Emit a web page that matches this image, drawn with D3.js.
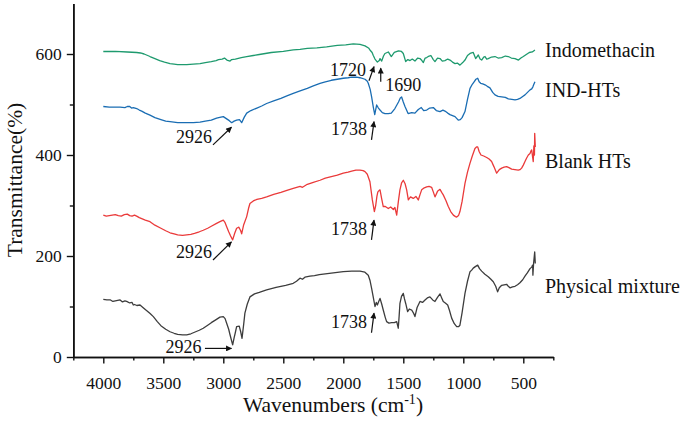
<!DOCTYPE html>
<html><head><meta charset="utf-8">
<script src="https://cdn.jsdelivr.net/npm/d3@7"></script>
<style>
body{margin:0;background:#fff}
svg{display:block}
text{font-family:"Liberation Serif","Times New Roman",serif !important;fill:#111}
</style>
</head><body>
<svg id="chart" width="683" height="427"></svg>
<script>
// ---- data ----
const xMajorTicks = [4000,3500,3000,2500,2000,1500,1000,500];
const xMinorTicks = [4250,3750,3250,2750,2250,1750,1250,750,250];
const yMajorTicks = [0,200,400,600];
const yMinorTicks = [100,300,500];

const seriesNames = ["Indomethacin","IND-HTs","Blank HTs","Physical mixture"];
const seriesColors = ["#1e9a6e","#1a6db3","#ea3a3a","#3d3d3d"];

const indomethacin = [[4000,605],[3900,605],[3800,604],[3722,603],[3690,602],[3660,600],[3630,597],[3611,595],[3570,591],[3530,587],[3490,584],[3444,581],[3410,580],[3380,579],[3340,579],[3305,579],[3250,580],[3194,581],[3150,583],[3100,585],[3060,587],[3040,589],[3010,590],[2990,592],[2970,588],[2944,586],[2930,589],[2900,590],[2850,593],[2805,595],[2750,597],[2700,599],[2650,601],[2600,603],[2500,605],[2417,608],[2360,609],[2300,611],[2220,612],[2139,614],[2050,617],[1980,618],[1917,620],[1861,619],[1819,616],[1790,612],[1778,608],[1760,603],[1750,597],[1736,590],[1716,584],[1700,587],[1694,591],[1680,586],[1665,596],[1653,601],[1625,604],[1600,595],[1575,603],[1540,606],[1515,605],[1500,601],[1480,585],[1462,589],[1444,587],[1425,590],[1403,586],[1380,592],[1361,591],[1345,587],[1333,583],[1318,592],[1305,593],[1285,596],[1270,597],[1250,589],[1236,585],[1215,592],[1194,591],[1175,586],[1153,587],[1130,590],[1111,588],[1090,584],[1069,581],[1050,582],[1028,578],[1005,583],[986,588],[965,597],[944,601],[917,603],[897,591],[875,598],[860,590],[847,588],[830,594],[819,595],[805,590],[792,591],[765,594],[736,595],[710,592],[680,593],[650,596],[625,595],[600,592],[569,591],[540,588],[520,592],[500,595],[475,599],[450,603],[425,604],[403,608]];

const indHTs = [[4000,496],[3950,495],[3900,495],[3860,495],[3820,494],[3800,496],[3780,496],[3765,493],[3750,494],[3722,492],[3700,489],[3680,487],[3650,483],[3611,479],[3570,474],[3520,470],[3480,467],[3444,466],[3380,464],[3300,464],[3250,464],[3194,465],[3150,467],[3100,469],[3056,473],[3020,475],[3000,476],[2975,472],[2950,468],[2930,464],[2910,467],[2889,469],[2865,470],[2847,464],[2825,475],[2805,483],[2770,488],[2720,493],[2680,497],[2639,502],[2580,507],[2520,512],[2470,517],[2417,522],[2360,527],[2300,532],[2250,537],[2194,542],[2150,545],[2100,548],[2050,550],[2000,552],[1960,553],[1930,554],[1890,554],[1861,553],[1819,550],[1800,546],[1792,542],[1776,530],[1764,515],[1750,495],[1738,480],[1730,490],[1722,499],[1710,494],[1694,489],[1675,484],[1653,482],[1625,482],[1600,483],[1570,492],[1540,505],[1525,513],[1514,515],[1500,505],[1486,496],[1460,482],[1430,484],[1403,483],[1375,490],[1350,494],[1330,488],[1305,489],[1280,493],[1250,494],[1225,488],[1194,486],[1170,489],[1153,487],[1130,483],[1111,480],[1090,478],[1069,476],[1042,469],[1025,470],[1010,474],[986,486],[965,510],[944,532],[925,540],[910,545],[895,550],[880,552],[868,545],[855,542],[838,541],[819,539],[800,536],[778,533],[755,524],[736,519],[710,516],[680,515],[650,514],[625,511],[595,510],[569,509],[548,510],[528,512],[505,516],[486,519],[465,524],[444,529],[430,531],[420,535],[412,540],[403,545]];

const blankHTs = [[4000,281],[3975,279],[3950,280],[3925,281],[3900,282],[3875,280],[3850,279],[3825,282],[3800,283],[3780,280],[3760,279],[3740,281],[3722,279],[3700,276],[3680,274],[3650,271],[3611,268],[3570,261],[3520,255],[3480,250],[3444,246],[3410,244],[3380,242],[3340,241],[3305,242],[3270,243],[3240,245],[3200,248],[3167,251],[3130,255],[3100,259],[3060,264],[3028,268],[3000,271],[2985,266],[2972,258],[2955,248],[2940,240],[2922,232],[2905,245],[2889,255],[2870,257],[2855,250],[2847,244],[2830,262],[2805,278],[2790,294],[2778,304],[2750,309],[2720,312],[2680,314],[2639,317],[2580,322],[2520,326],[2470,330],[2417,334],[2360,338],[2340,336],[2300,342],[2250,346],[2194,350],[2150,354],[2100,357],[2050,360],[2000,364],[1960,366],[1930,368],[1895,370],[1861,370],[1835,369],[1819,367],[1800,362],[1778,347],[1758,311],[1741,288],[1730,300],[1720,318],[1712,327],[1704,329],[1694,331],[1680,313],[1667,298],[1650,298],[1625,294],[1605,297],[1583,292],[1570,296],[1555,281],[1540,310],[1528,331],[1514,345],[1500,350],[1485,343],[1472,331],[1458,311],[1440,317],[1417,314],[1395,318],[1375,311],[1360,322],[1347,331],[1325,335],[1305,337],[1285,338],[1264,336],[1250,327],[1236,317],[1215,328],[1194,332],[1180,326],[1167,321],[1145,310],[1125,298],[1105,288],[1083,281],[1065,278],[1055,277],[1040,280],[1028,288],[1010,308],[986,344],[965,366],[944,384],[925,398],[903,413],[890,416],[880,416],[868,407],[853,400],[830,398],[805,395],[785,392],[764,387],[745,377],[722,364],[700,371],[680,374],[660,376],[639,377],[620,375],[597,372],[570,371],[542,370],[528,371],[514,374],[500,380],[486,387],[472,394],[458,400],[444,403],[436,408],[430,410],[422,395],[417,387],[412,418],[407,400],[405,443],[400,416]];

const physicalMixture = [[4000,114],[3970,113],[3940,113],[3920,110],[3900,111],[3880,112],[3860,113],[3840,109],[3820,111],[3805,110],[3780,107],[3760,108],[3750,103],[3740,104],[3720,102],[3694,103],[3670,98],[3640,92],[3610,86],[3583,80],[3550,70],[3520,62],[3480,55],[3444,50],[3410,47],[3380,45],[3340,44],[3305,44],[3270,46],[3240,49],[3200,53],[3167,57],[3130,63],[3100,68],[3060,74],[3028,79],[3000,80],[2985,76],[2972,67],[2955,55],[2945,45],[2922,24],[2910,38],[2900,48],[2889,60],[2867,61],[2855,50],[2844,37],[2830,65],[2820,87],[2800,105],[2778,119],[2740,125],[2700,128],[2639,133],[2560,138],[2480,142],[2417,146],[2390,150],[2361,156],[2340,154],[2320,158],[2278,160],[2240,161],[2200,163],[2100,166],[2000,169],[1930,170],[1861,170],[1820,168],[1792,162],[1778,152],[1764,136],[1750,118],[1736,100],[1725,108],[1716,103],[1705,110],[1694,116],[1680,105],[1667,93],[1650,78],[1639,70],[1620,67],[1597,68],[1575,68],[1555,70],[1542,57],[1535,80],[1528,106],[1515,120],[1500,126],[1490,115],[1480,106],[1464,90],[1450,95],[1430,93],[1415,87],[1403,80],[1385,98],[1361,110],[1340,108],[1319,113],[1300,117],[1278,119],[1255,113],[1236,110],[1215,118],[1194,125],[1180,117],[1167,110],[1150,107],[1130,103],[1115,92],[1097,77],[1075,66],[1055,60],[1040,60],[1028,63],[1010,88],[986,126],[965,150],[944,169],[930,172],[917,176],[900,179],[880,182],[865,175],[847,170],[820,164],[792,159],[770,154],[750,149],[730,140],[714,129],[700,137],[680,142],[660,143],[639,144],[625,140],[611,137],[590,139],[569,140],[548,143],[528,147],[505,153],[486,160],[465,167],[444,175],[430,178],[422,182],[420,162],[414,186],[405,208],[400,185]];

// annotations: label, arrow tail [w,v], arrow tip [w,v]
const annotLabels = ["1720","1690","2926","1738","2926","1738","2926","1738"];
const annotTails = [[1786,547],[1688,545],[3086,420],[1765,430],[3086,192],[1765,232],[3153,17],[1765,48]];
const annotTips  = [[1744,575],[1688,572],[2932,455],[1744,466],[2932,228],[1744,271],[2932,17],[1744,87]];

// ---- drawing ----
const svg = d3.select("#chart");
const x = d3.scaleLinear().domain([4250,250]).range([73.3,553.3]);
const y = d3.scaleLinear().domain([0,700]).range([357,3.5]);

const allSeries = [indomethacin, indHTs, blankHTs, physicalMixture];
const line = d3.line().x(d=>x(d[0])).y(d=>y(d[1]));

svg.append("g").selectAll("path").data(allSeries).join("path")
  .attr("d", line).attr("fill","none")
  .attr("stroke",(d,i)=>seriesColors[i]).attr("stroke-width",1.3)
  .attr("stroke-linejoin","round");

// axes
const fs = "17.5px";
const gx = svg.append("g").attr("transform",`translate(0,${y(0)})`);
gx.call(d3.axisBottom(x).tickValues(xMinorTicks).tickSize(3.5).tickFormat("").tickSizeOuter(0));
gx.append("g").call(d3.axisBottom(x).tickValues(xMajorTicks).tickSize(6.5).tickPadding(13)
  .tickFormat(d3.format("d")).tickSizeOuter(0));
const gy = svg.append("g").attr("transform",`translate(${x(4250)},0)`);
gy.call(d3.axisLeft(y).tickValues(yMinorTicks).tickSize(3.5).tickFormat("").tickSizeOuter(0));
gy.append("g").call(d3.axisLeft(y).tickValues(yMajorTicks).tickSize(6.5).tickPadding(5)
  .tickFormat(d3.format("d")).tickSizeOuter(0));

svg.selectAll("g").attr("font-family",null);
svg.selectAll(".domain").attr("stroke","#111").attr("stroke-width",1.6);
svg.selectAll(".tick line").attr("stroke","#111").attr("stroke-width",1.4);
svg.selectAll(".tick text").style("font-family","'Liberation Serif', serif").attr("font-size",fs).attr("fill","#111");

// axis titles
svg.append("text").attr("transform","translate(21.5,180) rotate(-90)")
  .attr("text-anchor","middle").attr("font-size","21.5px").text("Transmittance(%)");
const xt = svg.append("text").attr("x",333).attr("y",412).attr("text-anchor","middle").attr("font-size","21.5px");
xt.append("tspan").text("Wavenumbers (cm");
xt.append("tspan").attr("font-size","14px").attr("dy","-8").text("-1");
xt.append("tspan").attr("dy","8").text(")");

// series labels
const labelBaselines = [57,97,168,293];
svg.append("g").selectAll("text").data(seriesNames).join("text")
  .attr("x",545).attr("y",(d,i)=>labelBaselines[i]).attr("font-size","20px").text(d=>d);

// arrow marker
svg.append("defs").append("marker").attr("id","ah").attr("viewBox","0 0 10 10")
  .attr("refX",9).attr("refY",5).attr("markerWidth",7).attr("markerHeight",6)
  .attr("markerUnits","userSpaceOnUse").attr("orient","auto")
  .append("path").attr("d","M0,0L10,5L0,10Z").attr("fill","#111");

const ag = svg.append("g");
annotLabels.forEach((lab,i)=>{
  const t0 = annotTails[i], t1 = annotTips[i];
  const x0 = x(t0[0]), y0 = y(t0[1]), x1 = x(t1[0]), y1 = y(t1[1]);
  ag.append("line").attr("x1",x0).attr("y1",y0).attr("x2",x1).attr("y2",y1)
    .attr("stroke","#111").attr("stroke-width",1.2).attr("marker-end","url(#ah)");
  let tx, ty, anchor;
  if (lab === "1690") { tx = x0 + 4.5; ty = y0 + 9; anchor = "start"; }
  else if (lab === "1720") { tx = x0 - 3; ty = y0 - 5; anchor = "end"; }
  else if (lab === "2926" && Math.abs(y0 - y1) < 1) { tx = x0 - 3.5; ty = y0 + 4.5; anchor = "end"; }
  else if (lab === "2926") { tx = x0 - 1; ty = y0 - 2; anchor = "end"; }
  else { tx = x0 - 4.5; ty = y0 - 5; anchor = "end"; }
  ag.append("text").attr("x",tx).attr("y",ty).attr("text-anchor",anchor)
    .attr("font-size","18px").text(lab);
});
</script>
</body></html>
